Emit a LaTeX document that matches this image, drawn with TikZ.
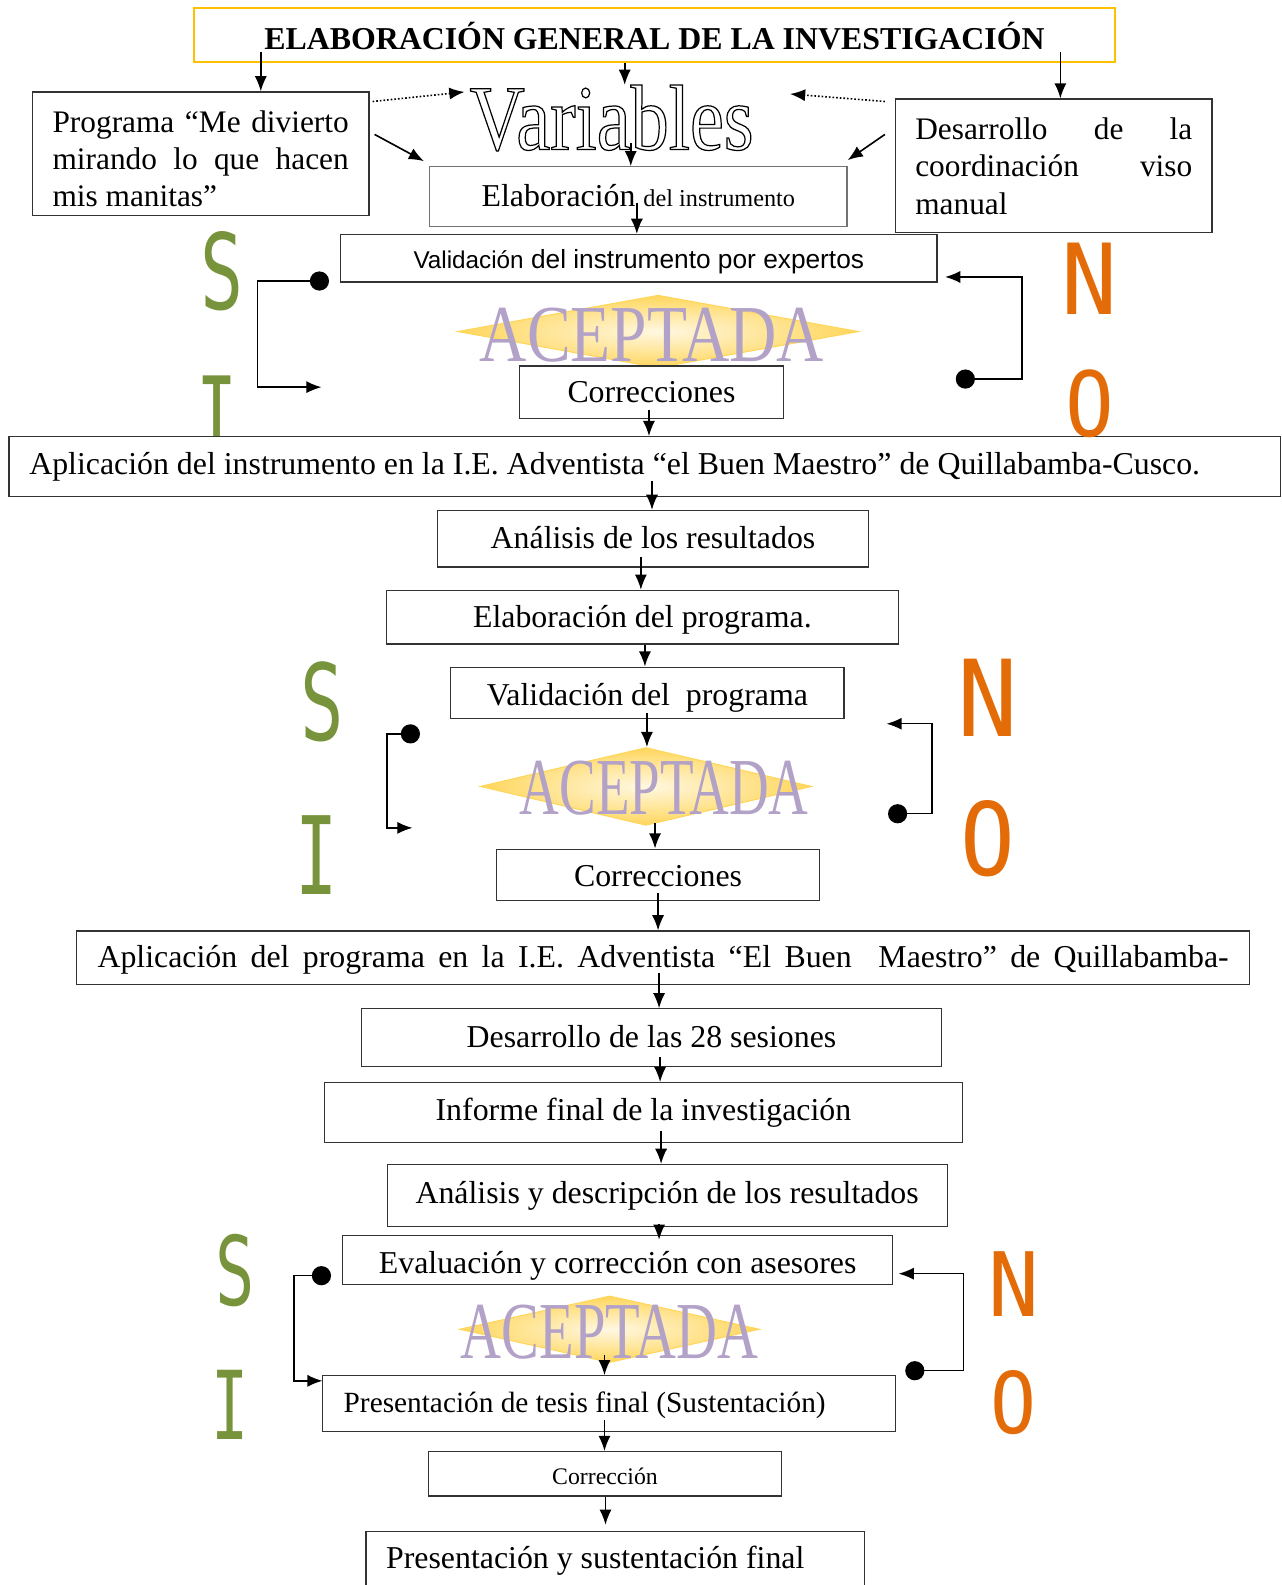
\documentclass[tikz,border=0pt]{standalone}
\usepackage{fontspec}
\setmainfont{Liberation Serif}
\setsansfont{Liberation Sans}
\newfontfamily\varsfont{Liberation Serif}[FakeStretch=0.82]
\newfontfamily\markfont{DejaVu Sans Mono}
\usepackage{graphicx}
\usetikzlibrary{arrows.meta,shapes.geometric,calc}
\definecolor{sigreen}{RGB}{119,147,60}
\definecolor{noorange}{RGB}{227,108,9}
\definecolor{lavanda}{RGB}{179,162,199}
\definecolor{amarillo}{RGB}{255,214,92}
\definecolor{crema}{RGB}{255,248,226}
\definecolor{titulo}{RGB}{255,192,0}
\newcommand{\contorno}[1]{\special{pdf:literal direct 1 Tr 1.2 w}#1\special{pdf:literal direct 0 Tr}}

\begin{document}
\begin{tikzpicture}[x=1pt,y=-1pt,
  caja/.style={draw=black!80,line width=1.2pt,fill=white,inner sep=0pt,text height=19pt,text depth=0pt,font=\fontsize{31.5}{36}\selectfont},
  flecha/.style={line width=1.6pt,-{Latex[length=15pt,width=12pt]}},
  punteada/.style={line width=1.6pt,dotted,-{Latex[length=15pt,width=12pt]}},
  punto/.style={circle,fill=black,inner sep=0pt,minimum width=17pt,minimum height=19pt},
  rombo/.style={diamond,draw=amarillo,line width=1pt,inner color=crema,outer color=amarillo,inner sep=0pt},
  aceptada/.style={text=lavanda,font=\fontsize{80}{80}\selectfont,inner sep=0pt},
  letra/.style={font=\markfont\fontsize{104}{104}\selectfont,inner sep=0pt}]

\useasboundingbox (0,0) rectangle (1268,1568);

% cabecera
\node[caja,draw=titulo,line width=2pt,minimum width=911pt,minimum height=53pt,text height=28pt,font=\bfseries\fontsize{31.5}{36}\selectfont] (titulo) at (647.5,34.5) {ELABORACIÓN GENERAL DE LA INVESTIGACIÓN};

\node[caja,minimum width=333pt,minimum height=122pt,text height=0pt,text depth=42pt,font=\fontsize{31}{36.5}\selectfont] (prog) at (198.5,152)
  {\begin{tabular}[t]{@{}l@{}}\makebox[293pt][s]{Programa “Me divierto}\\\makebox[293pt][s]{mirando lo que hacen}\\mis manitas”\end{tabular}};
\node[caja,minimum width=313pt,minimum height=132pt,text height=0pt,text depth=52pt,font=\fontsize{31}{37}\selectfont] (desa) at (1042.5,164)
  {\begin{tabular}[t]{@{}l@{}}\makebox[274pt][s]{Desarrollo de la}\\\makebox[274pt][s]{coordinación viso}\\manual\end{tabular}};
\node[font=\varsfont\fontsize{92}{92}\selectfont,inner sep=0pt,anchor=base] (vars) at (605,148) {\contorno{Variables}};

\node[caja,draw=black!55,minimum width=413pt,minimum height=59pt,text height=20pt] (elab) at (631.5,194.5)
  {Elaboración {\fontsize{24}{27}\selectfont del instrumento}};
\node[caja,minimum width=590pt,minimum height=47pt,text height=21pt,font=\sffamily\fontsize{26}{30}\selectfont] (valins) at (632,255.5)
  {{\fontsize{24}{28}\selectfont Validación} del instrumento por expertos};

% primera decision
\node[rombo,minimum width=397pt,minimum height=72pt] (rombo1) at (651,328) {};
\node[aceptada] (acep1) at (645,332) {\scalebox{0.81}[1]{ACEPTADA}};
\node[caja,minimum width=261pt,minimum height=52pt,text height=21pt] (corr1) at (644.5,388) {Correcciones};

\node[letra,text=sigreen] (si1s) at (220,268) {\scalebox{0.68}[1]{S}};
\begin{scope}
\clip (150,340) rectangle (280,432);
\node[letra,text=sigreen] (si1i) at (215,410) {\scalebox{0.65}[1]{I}};
\end{scope}

\node[caja,minimum width=1258pt,minimum height=59pt,text height=16pt] (aplins) at (638,461.5)
  {\makebox[1218pt][l]{Aplicación del instrumento en la I.E. Adventista “el Buen Maestro” de Quillabamba-Cusco.}};

\node[letra,text=noorange,font=\markfont\fontsize{97}{97}\selectfont] (no1n) at (1078,276) {\scalebox{0.95}[1]{N}};
\node[letra,text=noorange,font=\markfont\fontsize{89}{89}\selectfont] (no1o) at (1078,399) {\scalebox{0.9}[1]{O}};

\node[caja,minimum width=426pt,minimum height=56pt] (anal) at (646,533) {Análisis de los resultados};
\node[caja,minimum width=507pt,minimum height=53pt,text height=20pt] (elprog) at (635.5,610.5) {Elaboración del programa.};
\node[caja,minimum width=389pt,minimum height=51pt,text height=24pt] (valprog) at (640.5,685.5) {Validación del\ \ programa};

% segunda decision
\node[rombo,minimum width=328pt,minimum height=77pt] (rombo2) at (639,778) {};
\node[aceptada] (acep2) at (657,780) {\scalebox{0.68}[1]{ACEPTADA}};
\node[caja,minimum width=320pt,minimum height=51pt,text height=22pt] (corr2) at (651,865.5) {Correcciones};

\node[letra,text=sigreen,font=\markfont\fontsize{105}{105}\selectfont] (si2s) at (319,694) {\scalebox{0.68}[1]{S}};
\node[letra,text=sigreen,font=\markfont\fontsize{107}{107}\selectfont] (si2i) at (313,846) {\scalebox{0.65}[1]{I}};
\node[letra,text=noorange,font=\markfont\fontsize{105}{105}\selectfont] (no2n) at (977,690) {\scalebox{0.95}[1]{N}};
\node[letra,text=noorange,font=\markfont\fontsize{100}{100}\selectfont] (no2o) at (977,830) {\scalebox{0.9}[1]{O}};

\node[caja,minimum width=1160pt,minimum height=53pt,text height=20pt] (aplprog) at (656,947.5)
  {\makebox[1119pt][s]{Aplicación del programa en la I.E. Adventista “El Buen\ \ Maestro” de Quillabamba-}};
\node[caja,minimum width=573pt,minimum height=57pt,text height=20pt] (ses) at (644.5,1026.5) {Desarrollo de las 28 sesiones};
\node[caja,minimum width=631pt,minimum height=59pt,text height=16pt] (inf) at (636.5,1100.5) {Informe final de la investigación};
\node[caja,minimum width=554pt,minimum height=61pt,text height=16pt] (anades) at (660,1182.5) {Análisis y descripción de los resultados};
\node[caja,minimum width=544pt,minimum height=49pt,text height=26pt] (eval) at (611,1246.5) {Evaluación y corrección con asesores};

% tercera decision
\node[rombo,minimum width=297pt,minimum height=66pt] (rombo3) at (603,1315) {};
\node[aceptada] (acep3) at (603,1318) {\scalebox{0.7}[1]{ACEPTADA}};
\node[caja,minimum width=567pt,minimum height=55pt,text height=18pt,font=\fontsize{29}{34}\selectfont] (pres) at (602.5,1388.5)
  {\makebox[525pt][l]{Presentación de tesis final (Sustentación)}};
\node[caja,minimum width=349pt,minimum height=44pt,text height=21pt,font=\fontsize{23.5}{26}\selectfont] (corrn) at (598.5,1458) {Corrección};
\node[caja,minimum width=493pt,minimum height=60pt,text height=13pt] (final) at (608.5,1545)
  {\makebox[453pt][l]{Presentación y sustentación final}};

\node[letra,text=sigreen,font=\markfont\fontsize{95}{95}\selectfont] (si3s) at (233,1257) {\scalebox{0.68}[1]{S}};
\node[letra,text=sigreen,font=\markfont\fontsize{94}{94}\selectfont] (si3i) at (228,1390) {\scalebox{0.65}[1]{I}};
\node[letra,text=noorange,font=\markfont\fontsize{88}{88}\selectfont] (no3n) at (1003,1270) {\scalebox{0.95}[1]{N}};
\node[letra,text=noorange,font=\markfont\fontsize{84}{84}\selectfont] (no3o) at (1003,1388) {\scalebox{0.9}[1]{O}};

% flechas de arriba
\draw[flecha] ($(titulo.south -| 258,0)+(0,-11)$) -- (prog.north -| 258,0);
\draw[flecha] (titulo.south -| 618,0) -- (vars.north -| 618,0);
\draw[flecha] ($(titulo.south -| 1049,0)+(0,-11)$) -- (desa.north -| 1049,0);
\draw[flecha] ($(prog.east)+(5,-19)$) -- ($(elab.north west)+(-5,-5)$);
\draw[punteada] ($(prog.north east)+(3,10)$) -- ($(vars.north west)+(-5,7)$);
\draw[punteada] ($(desa.north west)+(-10,3)$) -- ($(vars.north east)+(36,9)$);
\draw[flecha] ($(desa.west)+(-10,-31)$) -- ($(elab.north east)+(0,-6)$);
\draw[flecha] ($(vars.south -| 624,0)+(0,-8)$) -- (elab.north -| 624,0);
\draw[flecha] ($(elab.south -| 630,0)+(0,-24)$) -- (valins.north -| 630,0);

% flechas del centro
\draw[flecha] ($(corr1.south -| 642,0)+(0,-9)$) -- (aplins.north -| 642,0);
\draw[flecha] ($(aplins.south -| 645,0)+(0,-16)$) -- (anal.north -| 645,0);
\draw[flecha] ($(anal.south -| 634,0)+(0,-11)$) -- (elprog.north -| 634,0);
\draw[flecha] (elprog.south -| 638,0) -- (valprog.north -| 638,0);
\draw[flecha] ($(valprog.south -| 640,0)+(0,-6)$) -- (rombo2.north -| 640,0);
\draw[flecha] ($(rombo2.south -| 648,0)+(0,-3)$) -- (corr2.north -| 648,0);
\draw[flecha] ($(corr2.south -| 651,0)+(0,-8)$) -- (aplprog.north -| 651,0);
\draw[flecha] ($(aplprog.south -| 652,0)+(0,-12)$) -- (ses.north -| 652,0);
\draw[flecha] ($(ses.south -| 653,0)+(0,-10)$) -- (inf.north -| 653,0);
\draw[flecha] ($(inf.south -| 654,0)+(0,-12)$) -- (anades.north -| 654,0);
\draw[flecha] ($(anades.south -| 652,0)+(0,-3)$) -- ($(eval.north -| 652,0)+(0,5)$);
\draw[flecha] ($(rombo3.center -| 598,0)+(0,25)$) -- (pres.north -| 598,0);
\draw[flecha] ($(pres.south -| 598,0)+(0,-12)$) -- (corrn.north -| 598,0);
\draw[flecha] (corrn.south -| 599,0) -- ($(final.north -| 599,0)+(0,-6)$);

% lazos si / no
\node[punto] (p1) at (316,278) {};
\coordinate (fin1) at (318,383);
\draw[flecha,line width=1.4pt] (p1.center) -- ++(-61,0) |- (fin1);
\node[punto] (p2) at (955,375) {};
\coordinate (fin2) at (935,274);
\draw[flecha,line width=1.4pt] (p2.center) -- ++(56,0) |- (fin2);

\node[punto] (p3) at (406,726) {};
\coordinate (fin3) at (408,819);
\draw[flecha,line width=1.4pt] (p3.center) -- ++(-23,0) |- (fin3);
\node[punto] (p4) at (888,805) {};
\coordinate (fin4) at (877,716);
\draw[flecha,line width=1.4pt] (p4.center) -- ++(34,0) |- (fin4);

\node[punto] (p5) at (318,1262) {};
\coordinate (fin5) at (319,1366);
\draw[flecha,line width=1.4pt] (p5.center) -- ++(-27,0) |- (fin5);
\node[punto] (p6) at (905,1356) {};
\coordinate (fin6) at (889,1260);
\draw[flecha,line width=1.4pt] (p6.center) -- ++(48,0) |- (fin6);
\end{tikzpicture}
\end{document}
